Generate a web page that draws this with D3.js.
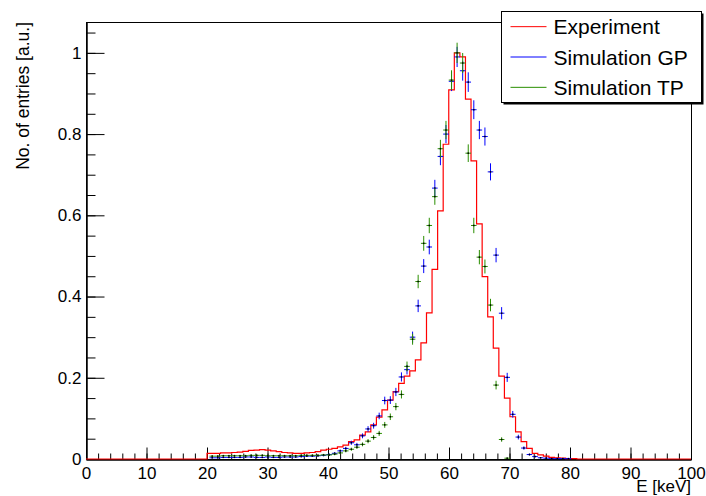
<!DOCTYPE html>
<html>
<head>
<meta charset="utf-8">
<script src="https://cdnjs.cloudflare.com/ajax/libs/d3/7.8.5/d3.min.js"></script>
<style>
body { margin: 0; background: #fff; }
svg { display: block; font-family: "Liberation Sans", Arial, Helvetica, sans-serif; }
</style>
</head>
<body>
<svg width="706" height="496"></svg>
<script>
// binning of the three histograms (keV)
var binStart = 20.4, binWidth = 0.92, cutLow = 20;

var experiment = [0.014, 0.014, 0.015, 0.015, 0.016, 0.017, 0.019, 0.021, 0.022, 0.023,
  0.022, 0.020, 0.018, 0.016, 0.015, 0.014, 0.014, 0.015, 0.016, 0.018,
  0.022, 0.024, 0.026, 0.030, 0.034, 0.043, 0.047, 0.059, 0.067, 0.084,
  0.103, 0.121, 0.145, 0.166, 0.186, 0.204, 0.217, 0.244, 0.286, 0.360,
  0.467, 0.611, 0.775, 0.909, 1.000, 0.990, 0.886, 0.734, 0.579, 0.449,
  0.350, 0.273, 0.204, 0.150, 0.104, 0.067, 0.043, 0.026, 0.014, 0.010,
  0.007, 0.004, 0.003, 0.002, 0.001, 0.001];

var simGP = [0.003, 0.003, 0.004, 0.004, 0.004, 0.004, 0.005, 0.005, 0.004, 0.004,
  0.005, 0.004, 0.004, 0.005, 0.005, 0.005, 0.006, 0.007, 0.007, 0.008,
  0.009, 0.011, 0.014, 0.020, 0.026, 0.040, 0.035, 0.057, 0.074, 0.082,
  0.106, 0.144, 0.145, 0.165, 0.202, 0.220, 0.300, 0.377, 0.475, 0.522,
  0.667, 0.745, 0.800, 0.930, 0.990, 0.956, 0.928, 0.860, 0.810, 0.794,
  0.707, 0.502, 0.359, 0.201, 0.110, 0.054, 0.027, 0.011, 0.006, 0.003,
  0.002, 0.001, 0.001, 0.001, 0.001, 0];

var simTP = [0.007, 0.007, 0.008, 0.008, 0.008, 0.008, 0.008, 0.009, 0.009, 0.009,
  0.008, 0.008, 0.008, 0.008, 0.008, 0.008, 0.009, 0.009, 0.009, 0.009,
  0.010, 0.010, 0.012, 0.015, 0.020, 0.024, 0.029, 0.036, 0.044, 0.053,
  0.063, 0.084, 0.104, 0.129, 0.159, 0.228, 0.295, 0.437, 0.531, 0.575,
  0.646, 0.764, 0.810, 0.933, 1.000, 0.975, 0.753, 0.575, 0.497, 0.474,
  0.379, 0.182, 0.048, 0.002, 0, 0, 0, 0, 0, 0,
  0, 0, 0, 0, 0, 0];

var errScale = 0.025;   // statistical error ~ errScale * sqrt(value)

var xTicks = [0, 10, 20, 30, 40, 50, 60, 70, 80, 90, 100];
var yTicks = [0, 0.2, 0.4, 0.6, 0.8, 1];
var legendLabels = ["Experiment", "Simulation GP", "Simulation TP"];
var colors = ["#ff0000", "#0000ff", "#2a8f00"];

var svg = d3.select("svg"),
    margin = {top: 22, right: 15, bottom: 37, left: 86},
    width = +svg.attr("width") - margin.left - margin.right,
    height = +svg.attr("height") - margin.top - margin.bottom,
    g = svg.append("g").attr("transform", "translate(" + margin.left + "," + margin.top + ")");

var x = d3.scaleLinear().domain([0, 100]).range([0, width]);
var y = d3.scaleLinear().domain([0, 1.076]).range([height, 0]);

// frame
g.append("rect")
    .attr("x", 0.5).attr("y", 0.5)
    .attr("width", width).attr("height", height)
    .attr("fill", "none").attr("stroke", "#000").attr("stroke-width", 1);

// x axis (ticks inside)
g.append("g").attr("transform", "translate(0," + (height + 0.5) + ")")
    .call(d3.axisBottom(x).tickValues(xTicks).tickSizeInner(-12).tickSizeOuter(0).tickPadding(7)
      .tickFormat(d3.format("d")));
g.append("g").attr("transform", "translate(0," + (height + 0.5) + ")")
    .call(d3.axisBottom(x).tickValues(d3.range(0, 100.01, 2)).tickSizeInner(-6).tickSizeOuter(0).tickFormat(""));

// y axis
g.append("g").attr("transform", "translate(0.5,0)")
    .call(d3.axisLeft(y).tickValues(yTicks).tickSizeInner(-18).tickSizeOuter(0).tickPadding(5)
      .tickFormat(d3.format("~g")));
g.append("g").attr("transform", "translate(0.5,0)")
    .call(d3.axisLeft(y).tickValues(d3.range(0, 1.06, 0.05)).tickSizeInner(-9).tickSizeOuter(0).tickFormat(""));

svg.selectAll(".tick line").attr("stroke", "#000");
svg.selectAll(".domain").attr("stroke", "#000");
svg.selectAll(".tick text").attr("font-size", 17).attr("fill", "#000")
    .style("font-family", "'Liberation Sans', Arial, sans-serif");

// axis titles
g.append("text")
    .attr("x", width).attr("y", height + 33)
    .attr("text-anchor", "end").attr("font-size", 17)
    .text("E [keV]");
g.append("text")
    .attr("transform", "translate(" + (-57) + ",0) rotate(-90)")
    .attr("text-anchor", "end").attr("font-size", 17.5)
    .text("No. of entries [a.u.]");

// experiment: step histogram
function edge(i) { return i === 0 ? cutLow : binStart + i * binWidth; }
var steps = [[0, 0], [cutLow, 0]];
experiment.forEach(function(v, i) {
  steps.push([edge(i), v]);
  steps.push([edge(i + 1), v]);
});
steps.push([edge(experiment.length), 0]);
steps.push([100, 0]);

var line = d3.line()
    .x(function(d) { return x(d[0]); })
    .y(function(d) { return y(d[1]); });

g.append("path")
    .datum(steps)
    .attr("d", line)
    .attr("fill", "none")
    .attr("stroke", colors[0])
    .attr("stroke-width", 1.2);

// simulations: error bars with marker
function drawPoints(values, color) {
  var pts = values.map(function(v, i) { return {i: i, v: v}; }).filter(function(d) { return d.v > 0; });
  var s = g.append("g");
  var p = s.selectAll("g").data(pts).enter().append("g");
  p.append("line")
      .attr("x1", function(d) { return x(binStart + d.i * binWidth); })
      .attr("x2", function(d) { return x(binStart + (d.i + 1) * binWidth); })
      .attr("y1", function(d) { return y(d.v); })
      .attr("y2", function(d) { return y(d.v); })
      .attr("stroke", color).attr("stroke-width", 1);
  p.append("line")
      .attr("x1", function(d) { return x(binStart + (d.i + 0.5) * binWidth); })
      .attr("x2", function(d) { return x(binStart + (d.i + 0.5) * binWidth); })
      .attr("y1", function(d) { return y(d.v - errScale * Math.sqrt(d.v)); })
      .attr("y2", function(d) { return y(d.v + errScale * Math.sqrt(d.v)); })
      .attr("stroke", color).attr("stroke-width", 1);
  p.append("rect")
      .attr("x", function(d) { return x(binStart + (d.i + 0.5) * binWidth) - 0.75; })
      .attr("y", function(d) { return y(d.v) - 0.75; })
      .attr("width", 1.5).attr("height", 1.5)
      .attr("fill", "#000");
}
drawPoints(simGP, colors[1]);
drawPoints(simTP, colors[2]);

// legend
var leg = svg.append("g").attr("transform", "translate(501.5,11.5)");
var legW = 200, legH = 91;
leg.append("rect").attr("x", 2).attr("y", 2).attr("width", legW).attr("height", legH).attr("fill", "#000");
leg.append("rect").attr("width", legW).attr("height", legH)
    .attr("fill", "#fff").attr("stroke", "#000").attr("stroke-width", 1);
legendLabels.forEach(function(label, i) {
  var cy = legH / 3 * (i + 0.5);
  leg.append("line")
      .attr("x1", 9).attr("x2", 45)
      .attr("y1", cy).attr("y2", cy)
      .attr("stroke", colors[i]).attr("stroke-width", 1);
  leg.append("text")
      .attr("x", 52).attr("y", cy).attr("dy", "0.36em")
      .attr("font-size", 21)
      .text(label);
});
</script>
</body>
</html>
